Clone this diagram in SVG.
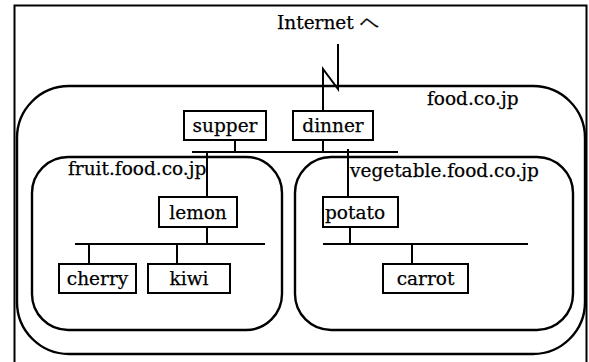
<svg xmlns="http://www.w3.org/2000/svg" width="589" height="362" viewBox="0 0 589 362">
<style>
  .frame{fill:none;stroke:#000;stroke-width:2}
  .zone{fill:none;stroke:#000;stroke-width:2.4}
  .box{fill:#fff;stroke:#000;stroke-width:2}
  .ln{fill:none;stroke:#000;stroke-width:2}
  text{font-family:"DejaVu Serif","Liberation Serif",serif;font-size:18.5px;fill:#000;stroke:#000;stroke-width:0.25}
  .c{text-anchor:middle}
</style>
<rect width="589" height="362" fill="#fff"/>
<rect class="frame" x="14.5" y="5.5" width="572" height="360"/>
<g id="internet-label"><text x="277" y="29">Internet ヘ</text></g>
<g id="food"><rect class="zone" x="17" y="86" width="568" height="268" rx="52" ry="52"/><text x="427" y="105">food.co.jp</text></g>
<g id="fruit"><rect class="zone" x="32" y="157" width="250" height="173" rx="36" ry="36"/></g>
<g id="vegetable"><rect class="zone" x="295" y="157" width="278" height="173" rx="36" ry="36"/></g>
<g id="connectors">
  <path class="ln" d="M338 44 V89 L323 69 V111"/>
  <path class="ln" d="M192 152 H398"/>
  <path class="ln" d="M235 140 V152"/>
  <path class="ln" d="M323 140 V152"/>
  <path class="ln" d="M207 152 V197"/>
  <path class="ln" d="M348 149 V197"/>
  <path class="ln" d="M207 227 V244"/>
  <path class="ln" d="M75 244 H265"/>
  <path class="ln" d="M89 244 V264"/>
  <path class="ln" d="M177 244 V264"/>
  <path class="ln" d="M350 227 V244"/>
  <path class="ln" d="M323 244 H528"/>
  <path class="ln" d="M412 244 V264"/>
</g>
<g id="fruit-label"><text x="68" y="175">fruit.food.co.jp</text></g>
<g id="vegetable-label"><text x="350" y="177">vegetable.food.co.jp</text></g>
<g id="supper"><rect class="box" x="184" y="111" width="82" height="29"/><text class="c" x="225" y="132">supper</text></g>
<g id="dinner"><rect class="box" x="293" y="111" width="80" height="29"/><text class="c" x="333" y="132">dinner</text></g>
<g id="lemon"><rect class="box" x="159" y="197" width="78" height="30"/><text class="c" x="198" y="219">lemon</text></g>
<g id="potato"><rect class="box" x="323" y="197" width="75" height="30"/><text x="325" y="219">potato</text></g>
<g id="cherry"><rect class="box" x="59" y="264" width="77" height="29"/><text class="c" x="97.5" y="285">cherry</text></g>
<g id="kiwi"><rect class="box" x="148" y="264" width="82" height="29"/><text class="c" x="189" y="285">kiwi</text></g>
<g id="carrot"><rect class="box" x="383" y="264" width="85" height="29"/><text class="c" x="425.5" y="285">carrot</text></g>
</svg>
